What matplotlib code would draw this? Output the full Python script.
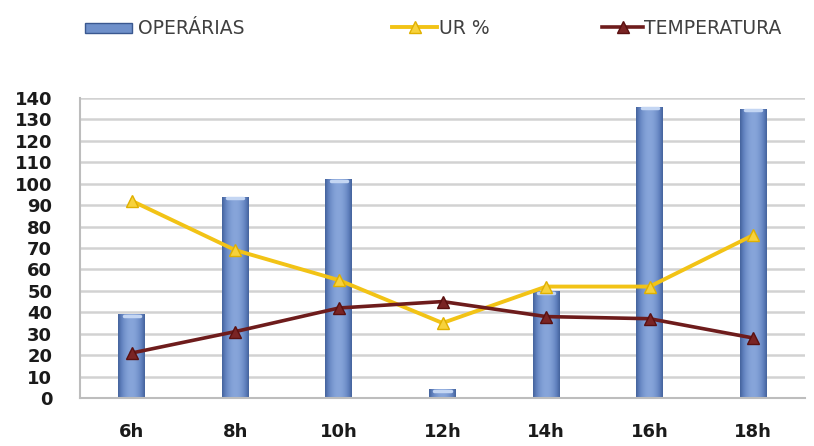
import numpy as np
import matplotlib
matplotlib.use("Agg")
import matplotlib.pyplot as plt
from matplotlib.patches import Rectangle

horas = ["6h", "8h", "10h", "12h", "14h", "16h", "18h"]
operarias = [39, 94, 102, 4, 50, 136, 135]
ur = [92, 69, 55, 35, 52, 52, 76]
temperatura = [21, 31, 42, 45, 38, 37, 28]

fig = plt.figure(figsize=(8.14, 4.46), dpi=100)
ax = fig.add_axes([80 / 814, 1 - 398 / 446, 725 / 814, 300 / 446])

x = np.arange(len(horas))
width = 0.26

# bars: flat patch for the legend, horizontal gradient on top for the cylinder look
bars = ax.bar(x, operarias, width=width, color="#5f80bd", zorder=2)
grad = np.linspace(0, 1, 64)
shade = np.sin(np.pi * (0.1 + 0.8 * grad)) ** 0.8
cmap = matplotlib.colors.LinearSegmentedColormap.from_list(
    "cyl", ["#3a5890", "#5f80bd", "#87a5da"])
for b in bars:
    x0, y0 = b.get_x(), b.get_y()
    w, h = b.get_width(), b.get_height()
    im = ax.imshow(shade[np.newaxis, :], cmap=cmap, vmin=0.3, vmax=1.0,
                   extent=(x0, x0 + w, y0, y0 + h), aspect="auto",
                   interpolation="bicubic", zorder=2.1)
    im.set_clip_path(b)
    # light top cap
    ax.plot([x0 + w * 0.2, x0 + w * 0.8], [y0 + h - 0.8, y0 + h - 0.8],
            color="#c4d6f3", lw=2.5, solid_capstyle="round", zorder=2.2)

ln_ur, = ax.plot(x, ur, color="#f2c316", lw=2.8, marker="^", ms=9,
                 markerfacecolor="#f7d23c", markeredgecolor="#e0b000",
                 zorder=3)
ln_t, = ax.plot(x, temperatura, color="#6e1c1c", lw=2.6, marker="^", ms=9,
                markerfacecolor="#7a2424", markeredgecolor="#5a1010",
                zorder=4)

ax.set_xlim(-0.5, len(horas) - 0.5)
ax.set_ylim(0, 140)
ax.set_yticks(np.arange(0, 141, 10))
ax.set_xticks(x)
ax.set_xticklabels(horas)
ax.tick_params(axis="both", length=0, labelsize=13)
ax.tick_params(axis="y", pad=20)
ax.tick_params(axis="x", pad=18)
for lab in ax.get_xticklabels() + ax.get_yticklabels():
    lab.set_fontweight("bold")
    lab.set_color("#1a1a1a")

ax.grid(axis="y", color="#d2d2d2", lw=1.8, zorder=0)
ax.set_axisbelow(True)
for side in ("top", "right"):
    ax.spines[side].set_visible(False)
ax.spines["left"].set_color("#bdbdbd")
ax.spines["left"].set_linewidth(1.5)
ax.spines["bottom"].set_color("#bdbdbd")
ax.spines["bottom"].set_linewidth(1.5)

leg_kw = dict(frameon=False, loc="center left", borderpad=0, borderaxespad=0,
              labelcolor="#404040", prop={"size": 13.5})
bar_handle = Rectangle((0, 0), 1, 1, facecolor="#6f90ca", edgecolor="#3a5890")
fig.legend([bar_handle], ["OPERÁRIAS"], bbox_to_anchor=(85 / 814, 1 - 29 / 446),
           handleheight=0.5, handlelength=2.5, handletextpad=0.35, **leg_kw)
fig.legend([ln_ur], ["UR %"], bbox_to_anchor=(392 / 814, 1 - 28 / 446),
           handlelength=2.4, handletextpad=0.1, **leg_kw)
fig.legend([ln_t], ["TEMPERATURA"], bbox_to_anchor=(602 / 814, 1 - 28 / 446),
           handlelength=2.2, handletextpad=0.05, **leg_kw)

fig.savefig("out.png", dpi=100)
